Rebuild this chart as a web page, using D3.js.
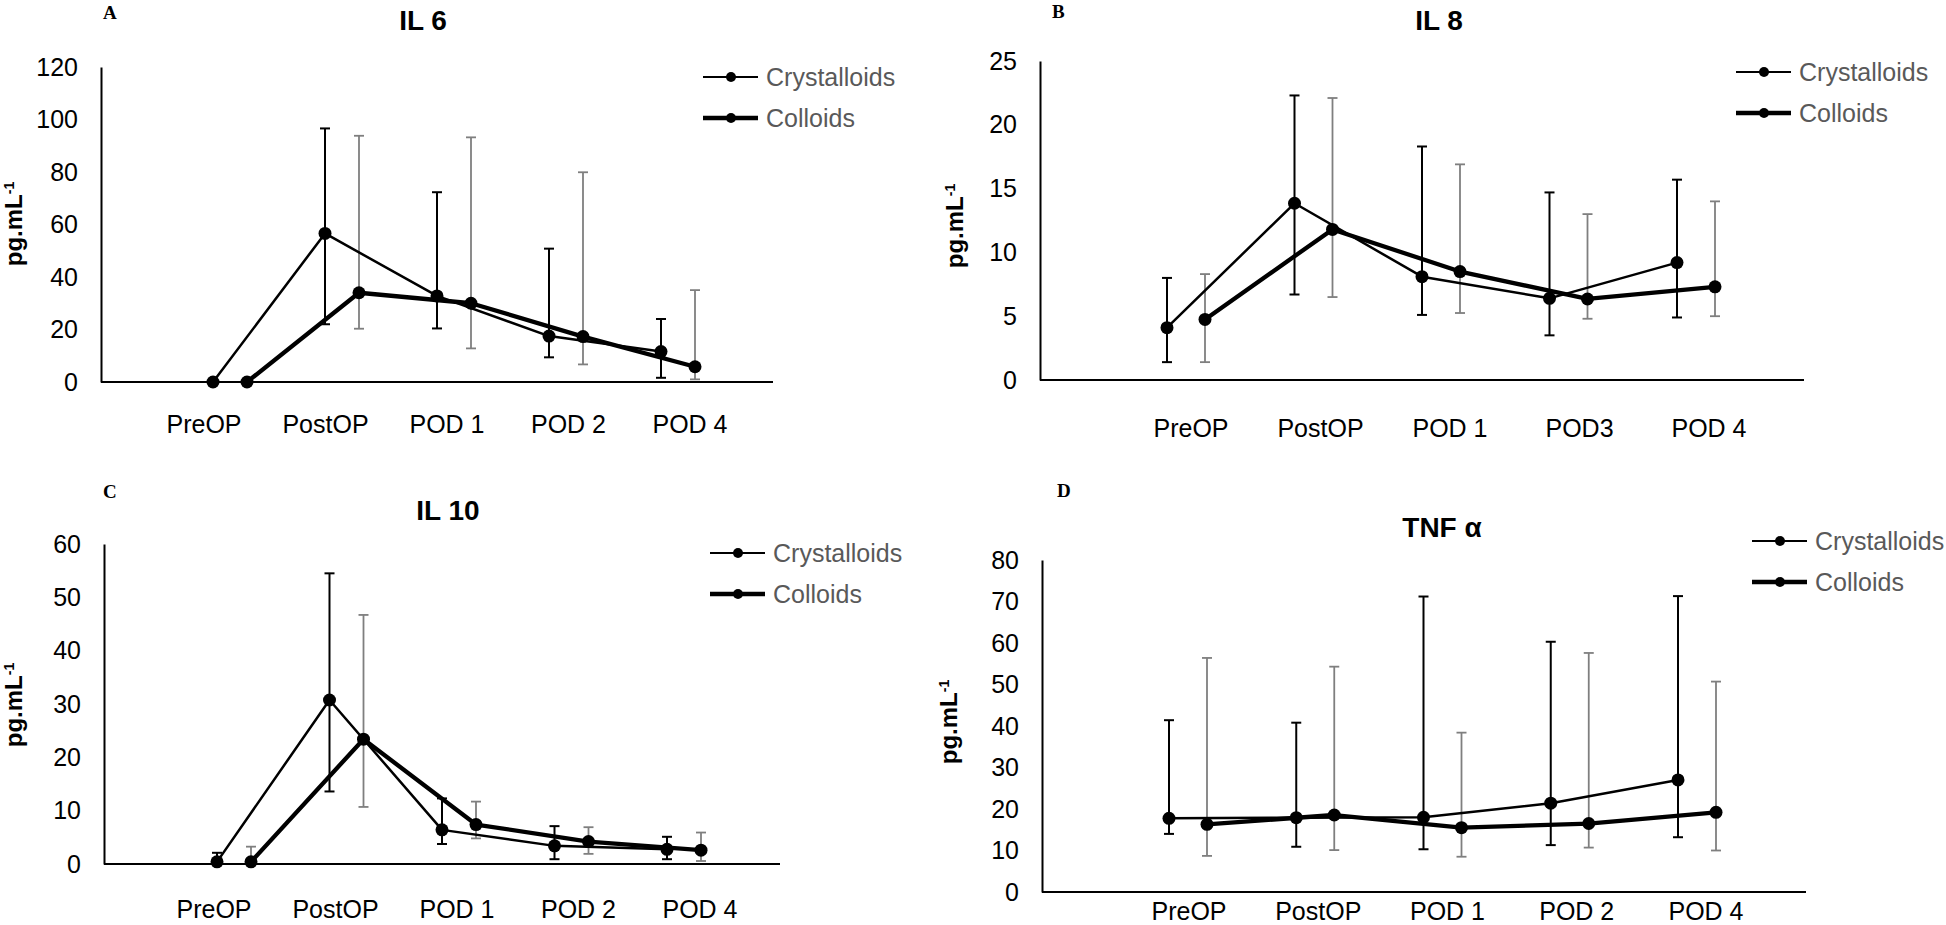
<!DOCTYPE html>
<html>
<head>
<meta charset="utf-8">
<script src="https://cdn.jsdelivr.net/npm/d3@7"></script>
<style>
  body { margin: 0; background: #fff; }
  svg { display: block; }
  text { font-family: "Liberation Sans", Arial, sans-serif; }
</style>
</head>
<body>
<div id="chart"></div>
<script>
// series names
const groups = ['Crystalloids', 'Colloids']

// categories
const catsA = ['PreOP', 'PostOP', 'POD 1', 'POD 2', 'POD 4']
const catsB = ['PreOP', 'PostOP', 'POD 1', 'POD3', 'POD 4']
const catsC = ['PreOP', 'PostOP', 'POD 1', 'POD 2', 'POD 4']
const catsD = ['PreOP', 'PostOP', 'POD 1', 'POD 2', 'POD 4']

// tick labels
const ticksA = [0, 20, 40, 60, 80, 100, 120]
const ticksB = [0, 5, 10, 15, 20, 25]
const ticksC = [0, 10, 20, 30, 40, 50, 60]
const ticksD = [0, 10, 20, 30, 40, 50, 60, 70, 80]

// IL 6 (mean, upper and lower end of the error bar)
const il6Cry   = [0, 56.6, 32.8, 17.5, 11.6]
const il6CryHi = [0, 96.6, 72.3, 50.8, 24.0]
const il6CryLo = [0, 22.0, 20.4, 9.4, 1.6]
const il6Col   = [0, 34.0, 30.0, 17.3, 5.8]
const il6ColHi = [0, 93.8, 93.2, 79.9, 35.0]
const il6ColLo = [0, 20.3, 12.8, 6.7, 1.0]

// IL 8
const il8Cry   = [4.1, 13.85, 8.1, 6.4, 9.2]
const il8CryHi = [8.0, 22.3, 18.3, 14.7, 15.7]
const il8CryLo = [1.4, 6.7, 5.1, 3.5, 4.9]
const il8Col   = [4.75, 11.8, 8.5, 6.35, 7.3]
const il8ColHi = [8.3, 22.1, 16.9, 13.0, 14.0]
const il8ColLo = [1.4, 6.5, 5.25, 4.8, 5.0]

// IL 10
const il10Cry   = [0.4, 30.75, 6.4, 3.4, 2.75]
const il10CryHi = [2.1, 54.5, 12.3, 7.1, 5.1]
const il10CryLo = [0, 13.6, 3.75, 0.9, 0.9]
const il10Col   = [0.4, 23.4, 7.4, 4.2, 2.6]
const il10ColHi = [3.25, 46.7, 11.7, 6.9, 5.9]
const il10ColLo = [0, 10.7, 4.8, 1.9, 0.56]

// TNF alpha
const tnfCry   = [17.75, 17.9, 18.0, 21.4, 27.0]
const tnfCryHi = [41.4, 40.8, 71.2, 60.3, 71.3]
const tnfCryLo = [14.0, 10.9, 10.3, 11.3, 13.2]
const tnfCol   = [16.3, 18.55, 15.5, 16.5, 19.2]
const tnfColHi = [56.4, 54.3, 38.4, 57.6, 50.7]
const tnfColLo = [8.7, 10.1, 8.5, 10.7, 10.0]

const W = 1946, H = 925
const FONT = '"Liberation Sans", Arial, sans-serif'
const lineW = [2.5, 4.3]              // crystalloids thin, colloids thick
const barColor = ['#000', '#7f7f7f']

// panel setup: data + where it goes
const panels = [
  {letter: 'A', title: 'IL 6', cats: catsA, ticks: ticksA,
   mean: [il6Cry, il6Col], hi: [il6CryHi, il6ColHi], lo: [il6CryLo, il6ColLo],
   left: 101, right: 773, top: 67, bottom: 382, x0: 230, x1: 678, off: 17,
   labX0: 204, labX1: 690, labelY: 433, titleX: 423, titleY: 30, letterX: 103, letterY: 19,
   yTitleX: 22, yTitleY: 224, legX: 703, legY: 77},
  {letter: 'B', title: 'IL 8', cats: catsB, ticks: ticksB,
   mean: [il8Cry, il8Col], hi: [il8CryHi, il8ColHi], lo: [il8CryLo, il8ColLo],
   left: 1040, right: 1804, top: 61, bottom: 380, x0: 1186, x1: 1696, off: 19,
   labX0: 1191, labX1: 1709, labelY: 437, titleX: 1439, titleY: 30, letterX: 1052, letterY: 18,
   yTitleX: 963, yTitleY: 226, legX: 1736, legY: 72},
  {letter: 'C', title: 'IL 10', cats: catsC, ticks: ticksC,
   mean: [il10Cry, il10Col], hi: [il10CryHi, il10ColHi], lo: [il10CryLo, il10ColLo],
   left: 104, right: 780, top: 544, bottom: 864, x0: 234, x1: 684, off: 17,
   labX0: 214, labX1: 700, labelY: 918, titleX: 448, titleY: 520, letterX: 103, letterY: 498,
   yTitleX: 22, yTitleY: 705, legX: 710, legY: 553},
  {letter: 'D', title: 'TNF α', cats: catsD, ticks: ticksD,
   mean: [tnfCry, tnfCol], hi: [tnfCryHi, tnfColHi], lo: [tnfCryLo, tnfColLo],
   left: 1042, right: 1806, top: 560, bottom: 892, x0: 1188, x1: 1697, off: 19,
   labX0: 1189, labX1: 1706, labelY: 920, titleX: 1442, titleY: 537, letterX: 1057, letterY: 497,
   yTitleX: 957, yTitleY: 722, legX: 1752, legY: 541}
]

const svg = d3.select('#chart').append('svg')
  .attr('width', W)
  .attr('height', H)

function drawPanel(p){
  const g = svg.append('g')

  const y = d3.scaleLinear().domain([0, d3.max(p.ticks)]).range([p.bottom, p.top])
  const x = d3.scalePoint().domain(p.cats).range([p.x0, p.x1])
  const xl = d3.scalePoint().domain(p.cats).range([p.labX0, p.labX1])   // label spots
  const sub = d3.scalePoint().domain(groups).range([-p.off, p.off])

  // y axis, no tick marks
  const ya = g.append('g')
    .attr('transform', `translate(${p.left},0)`)
    .call(d3.axisLeft(y).tickValues(p.ticks).tickSize(0).tickPadding(23))
  ya.select('.domain').attr('stroke', '#000').attr('stroke-width', 2)
  ya.selectAll('text')
    .attr('font-size', 25)
    .attr('font-family', FONT)
    .attr('fill', '#000')

  // x axis line
  g.append('line')
    .attr('x1', p.left).attr('x2', p.right)
    .attr('y1', p.bottom).attr('y2', p.bottom)
    .attr('stroke', '#000').attr('stroke-width', 2)

  // category labels
  g.selectAll('.xlab').data(p.cats).join('text')
    .attr('x', d => xl(d))
    .attr('y', p.labelY)
    .attr('text-anchor', 'middle')
    .attr('font-size', 25)
    .attr('fill', '#000')
    .text(d => d)

  // error bars
  groups.forEach((grp, k) => {
    p.cats.forEach((c, i) => {
      const cx = x(c) + sub(grp)
      const lo = p.lo[k][i], hi = p.hi[k][i]
      if (hi - lo <= 0) return
      const eb = g.append('g')
        .attr('stroke', barColor[k])
        .attr('stroke-width', k == 0 ? 2 : 1.8)
      eb.append('line').attr('x1', cx).attr('x2', cx).attr('y1', y(lo)).attr('y2', y(hi))
      eb.append('line').attr('x1', cx - 5).attr('x2', cx + 5).attr('y1', y(hi)).attr('y2', y(hi))
      eb.append('line').attr('x1', cx - 5).attr('x2', cx + 5).attr('y1', y(lo)).attr('y2', y(lo))
    })
  })

  // lines + markers
  groups.forEach((grp, k) => {
    const line = d3.line()
      .x((v, i) => x(p.cats[i]) + sub(grp))
      .y(v => y(v))
    g.append('path')
      .datum(p.mean[k])
      .attr('d', line)
      .attr('fill', 'none')
      .attr('stroke', '#000')
      .attr('stroke-width', lineW[k])
      .attr('stroke-linejoin', 'round')
    g.selectAll('.m' + k).data(p.mean[k]).join('circle')
      .attr('cx', (v, i) => x(p.cats[i]) + sub(grp))
      .attr('cy', v => y(v))
      .attr('r', 6.5)
      .attr('fill', '#000')
  })

  // title
  g.append('text')
    .attr('x', p.titleX).attr('y', p.titleY)
    .attr('text-anchor', 'middle')
    .attr('font-size', 28)
    .attr('font-weight', 'bold')
    .attr('fill', '#000')
    .text(p.title)

  // panel letter
  g.append('text')
    .attr('x', p.letterX).attr('y', p.letterY)
    .style('font-family', '"Liberation Serif", "Times New Roman", serif')
    .attr('font-size', 19)
    .attr('font-weight', 'bold')
    .text(p.letter)

  // y axis title pg.mL-1
  const yt = g.append('text')
    .attr('transform', `translate(${p.yTitleX},${p.yTitleY}) rotate(-90)`)
    .attr('text-anchor', 'middle')
    .attr('font-size', 24)
    .attr('font-weight', 'bold')
    .attr('fill', '#000')
  yt.append('tspan').text('pg.mL')
  yt.append('tspan').attr('font-size', 14).attr('dy', -8).text('-1')

  // legend
  groups.forEach((grp, k) => {
    const ly = p.legY + k * 41
    g.append('line')
      .attr('x1', p.legX).attr('x2', p.legX + 55)
      .attr('y1', ly).attr('y2', ly)
      .attr('stroke', '#000')
      .attr('stroke-width', k == 0 ? 2 : 4.5)
    g.append('circle')
      .attr('cx', p.legX + 28).attr('cy', ly)
      .attr('r', 5)
      .attr('fill', '#000')
    g.append('text')
      .attr('x', p.legX + 63).attr('y', ly + 9)
      .attr('font-size', 25)
      .attr('fill', '#595959')
      .text(grp)
  })
}

panels.forEach(drawPanel)
</script>
</body>
</html>
